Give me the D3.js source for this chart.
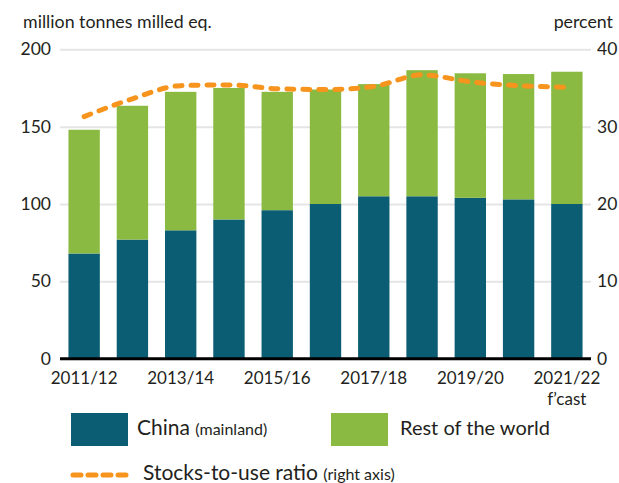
<!DOCTYPE html>
<meta charset="utf-8">
<script src="https://d3js.org/d3.v7.min.js"></script>
<style>
body { margin: 0; background: #fff; }
text { font-family: "Lato", "Open Sans", sans-serif; fill: #231f20; }
.grid line { stroke: #e5e5e5; stroke-width: 2; }
</style>
<svg id="chart" width="619" height="483"></svg>

<script>
// marketing years
var years = ["2011/12", "2012/13", "2013/14", "2014/15", "2015/16", "2016/17",
             "2017/18", "2018/19", "2019/20", "2020/21", "2021/22"];
// million tonnes milled eq.
var china = [68, 77, 83, 90, 96, 100, 105, 105, 104, 103, 100];
var restOfWorld = [80, 86.5, 89.5, 85, 76.5, 74, 72.5, 81.5, 80.5, 81, 85.5];
// stocks-to-use ratio, percent
var ratio = [31.3, 33.6, 35.3, 35.4, 34.9, 34.8, 35.2, 36.7, 35.8, 35.3, 35.1];

var leftTicks = [0, 50, 100, 150, 200];
var rightTicks = [0, 10, 20, 30, 40];
var xTicks = ["2011/12", "2013/14", "2015/16", "2017/18", "2019/20", "2021/22"];

var teal = "#0b5d74", green = "#8aba41", orange = "#f7941d";

var svg = d3.select("#chart");

var plotLeft = 60, plotRight = 591, plotTop = 49.3, plotBottom = 358.7;

var x = d3.scaleBand().domain(years).range([plotLeft, plotRight])
    .paddingInner(0.35).paddingOuter(0.175);
var y = d3.scaleLinear().domain([0, 200]).range([plotBottom, plotTop]);
var y2 = d3.scaleLinear().domain([0, 40]).range([plotBottom, plotTop]);

// gridlines + left labels
var gy = svg.append("g")
    .attr("class", "grid")
    .attr("transform", "translate(" + plotLeft + ",0)")
    .call(d3.axisLeft(y).tickValues(leftTicks).tickSize(-(plotRight - plotLeft)).tickPadding(9));
gy.select(".domain").remove();
gy.selectAll("text").style("font-size", "17.5px").attr("fill", "#231f20");

// right axis labels
var gy2 = svg.append("g")
    .attr("transform", "translate(" + plotRight + ",0)")
    .call(d3.axisRight(y2).tickValues(rightTicks).tickSize(0).tickPadding(6));
gy2.select(".domain").remove();
gy2.selectAll("text").style("font-size", "17.5px").attr("fill", "#231f20");

// stacked bars
var stack = years.map(function(d, i) { return {year: d, china: china[i], rest: restOfWorld[i]}; });

svg.append("g").selectAll("rect.china")
  .data(stack)
  .enter().append("rect")
    .attr("x", function(d) { return x(d.year); })
    .attr("width", x.bandwidth())
    .attr("y", function(d) { return y(d.china); })
    .attr("height", function(d) { return y(0) - y(d.china); })
    .attr("fill", teal);

svg.append("g").selectAll("rect.rest")
  .data(stack)
  .enter().append("rect")
    .attr("x", function(d) { return x(d.year); })
    .attr("width", x.bandwidth())
    .attr("y", function(d) { return y(d.china + d.rest); })
    .attr("height", function(d) { return y(d.china) - y(d.china + d.rest); })
    .attr("fill", green);

// baseline
svg.append("line")
    .attr("x1", plotLeft).attr("x2", plotRight)
    .attr("y1", y(0)).attr("y2", y(0))
    .attr("stroke", "#000").attr("stroke-width", 3);

// x axis labels
var gx = svg.append("g")
    .attr("transform", "translate(0," + y(0) + ")")
    .call(d3.axisBottom(x).tickValues(xTicks).tickSize(0).tickPadding(13));
gx.select(".domain").remove();
gx.selectAll("text").style("font-size", "17px").attr("fill", "#231f20");

svg.append("text")
    .attr("x", x("2021/22") + x.bandwidth() / 2)
    .attr("y", 405)
    .attr("text-anchor", "middle")
    .style("font-size", "17px")
    .text("f\u2019cast");

// stocks-to-use line
var line = d3.line()
    .x(function(d, i) { return x(years[i]) + x.bandwidth() / 2; })
    .y(function(d) { return y2(d); })
    .curve(d3.curveMonotoneX);

svg.append("path")
    .datum(ratio)
    .attr("d", line)
    .attr("fill", "none")
    .attr("stroke", orange)
    .attr("stroke-width", 5)
    .attr("stroke-linecap", "round")
    .attr("stroke-dasharray", "7,9");

// axis titles
svg.append("text")
    .attr("x", 23).attr("y", 28)
    .style("font-size", "17.8px")
    .text("million tonnes milled eq.");

svg.append("text")
    .attr("x", 613).attr("y", 28)
    .attr("text-anchor", "end")
    .style("font-size", "17.8px")
    .text("percent");

// legend
var legend = svg.append("g");

legend.append("rect")
    .attr("x", 71).attr("y", 413).attr("width", 57).attr("height", 33)
    .attr("fill", teal);
var t1 = legend.append("text").attr("x", 137).attr("y", 435).style("font-size", "21px");
t1.append("tspan").text("China ");
t1.append("tspan").style("font-size", "16px").text("(mainland)");

legend.append("rect")
    .attr("x", 331).attr("y", 413).attr("width", 57).attr("height", 33)
    .attr("fill", green);
legend.append("text").attr("x", 400).attr("y", 435).style("font-size", "20px")
    .text("Rest of the world");

legend.append("line")
    .attr("x1", 73).attr("x2", 126)
    .attr("y1", 475).attr("y2", 475)
    .attr("stroke", orange)
    .attr("stroke-width", 5)
    .attr("stroke-linecap", "round")
    .attr("stroke-dasharray", "8,7");
var t3 = legend.append("text").attr("x", 143).attr("y", 480).style("font-size", "21px");
t3.append("tspan").text("Stocks-to-use ratio ");
t3.append("tspan").style("font-size", "16px").text("(right axis)");
</script>
